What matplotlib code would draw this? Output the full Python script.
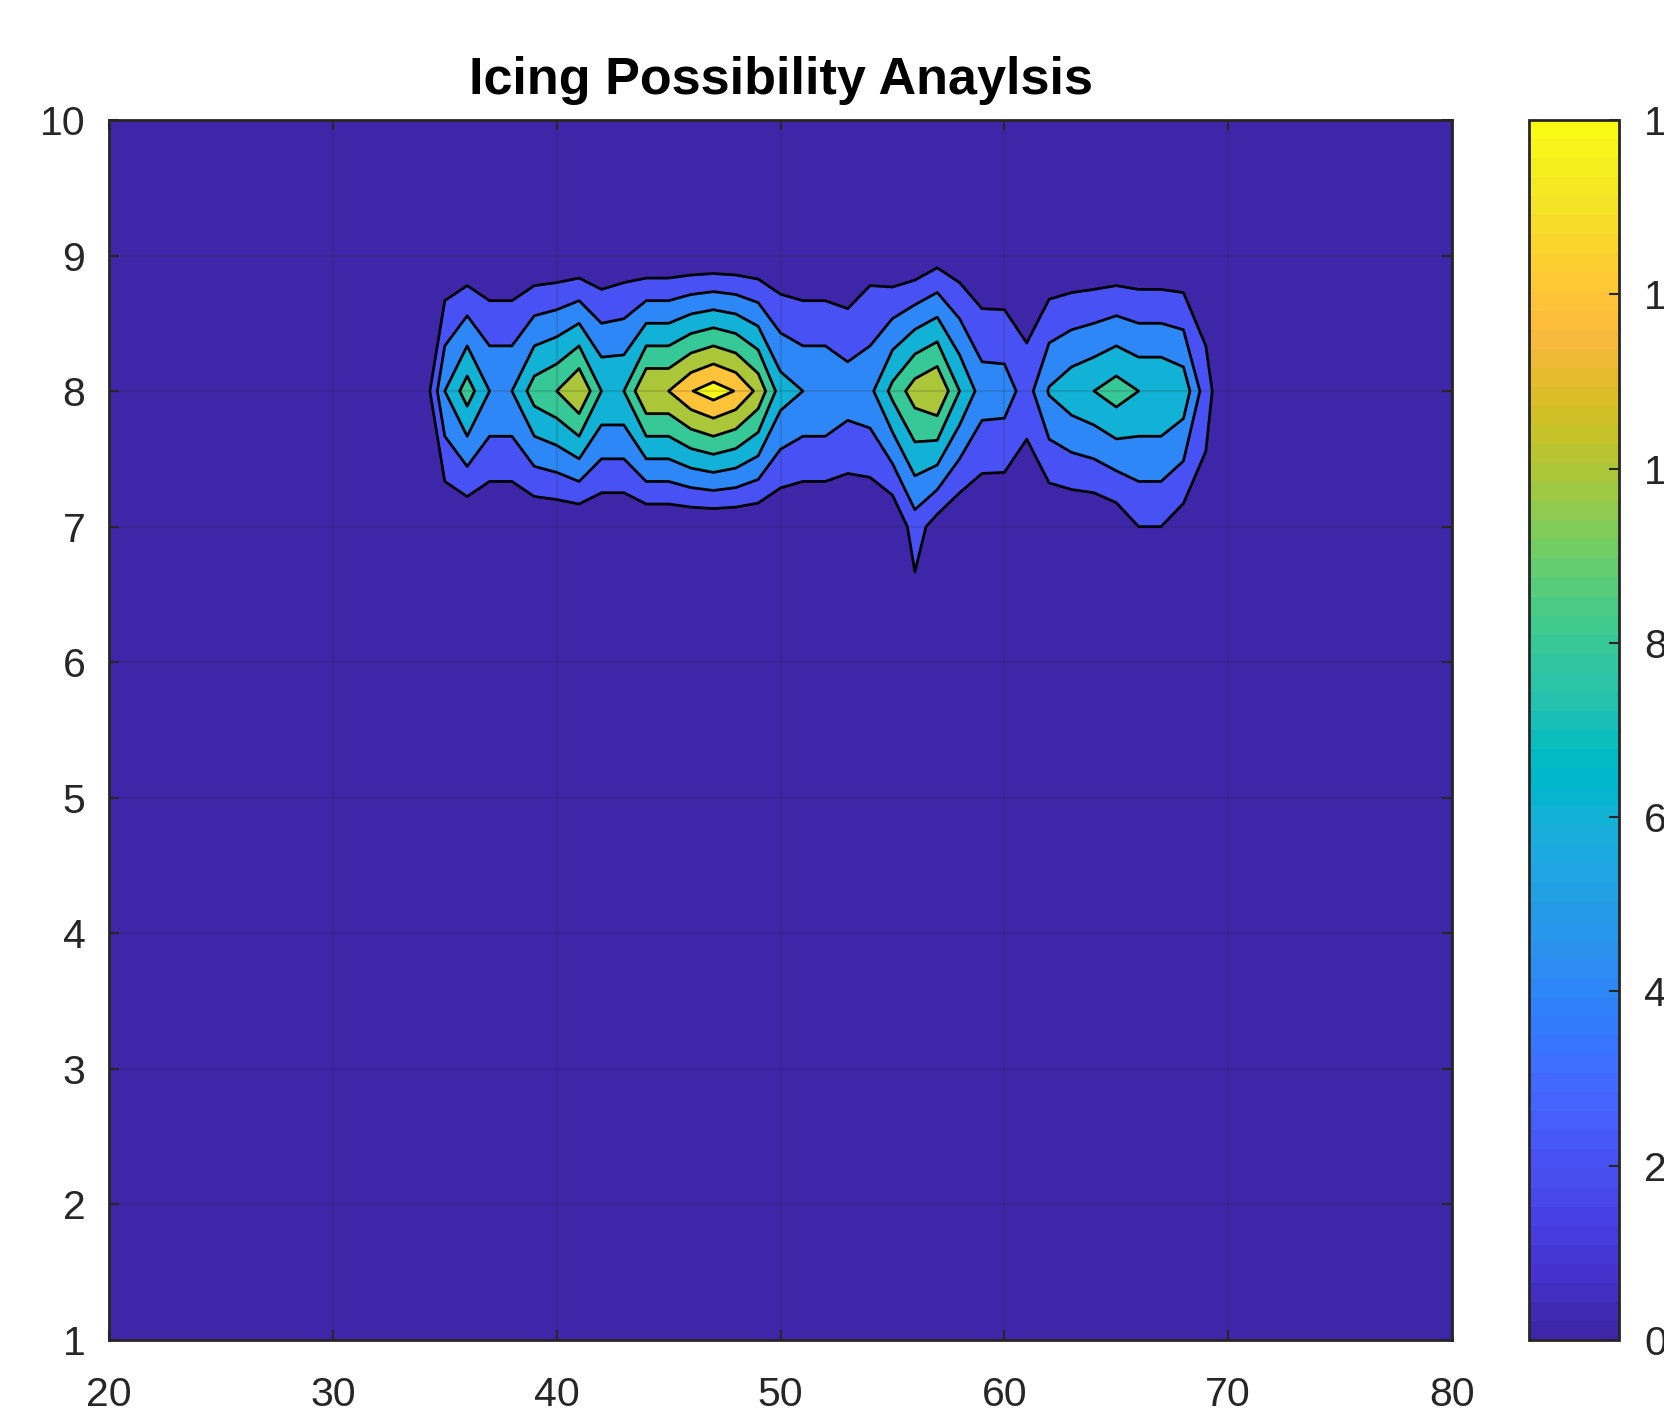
import numpy as np
import matplotlib
matplotlib.use("Agg")
import matplotlib.pyplot as plt
from matplotlib.colors import ListedColormap, Normalize
from matplotlib.cm import ScalarMappable

plt.rcParams['font.family'] = ['Liberation Sans', 'DejaVu Sans']

# Rejilla de datos
x_vals = np.arange(20, 81)
y_vals = np.arange(1, 11)

# Columnas con datos: x = 34..69 ; filas y = 7, 8, 9
x_data = np.arange(34, 70)
row_y7 = [0, 0, 0, 0, 0, 0, 0, 0, 0, 0,
          0, 0, 0, 0, 0, 0, 0, 0, 0, 0,
          0, 0, 3, 1, 0, 0, 0, 0, 0, 0,
          0, 0.5, 2, 2, 0.9, 1]
row_y8 = [0, 6, 9, 6, 6, 9, 10, 12, 8, 8,
          12, 12, 13.9, 15, 13.9, 11.5, 7, 6, 6, 5.1,
          5.5, 8.6, 11, 12, 8, 5.1, 5, 3.1, 6.2, 7.3,
          8, 9, 8, 8, 7.3, 2.8]
row_y9 = [0, 0, 0, 0, 0, 0, 0, 0, 0, 0.5,
          0, 0, 0, 0, 0, 0, 0, 0, 0, 0,
          1, 0, 0, 1, 0.5, 0, 0, 0, 0, 0,
          0, 0, 0, 0, 0, 0.4]

levels = [0, 2, 4, 6, 8, 10, 12, 14]
title = 'Icing Possibility Anaylsis'

# Mapa de colores parula (64 colores)
parula_data = [
    [0.2422, 0.1504, 0.6603], [0.2504, 0.1650, 0.7076], [0.2578, 0.1818, 0.7511],
    [0.2647, 0.1978, 0.7952], [0.2706, 0.2147, 0.8364], [0.2751, 0.2342, 0.8710],
    [0.2783, 0.2559, 0.8991], [0.2803, 0.2782, 0.9221], [0.2813, 0.3006, 0.9414],
    [0.2810, 0.3228, 0.9579], [0.2795, 0.3447, 0.9717], [0.2760, 0.3667, 0.9829],
    [0.2699, 0.3892, 0.9906], [0.2602, 0.4123, 0.9952], [0.2440, 0.4358, 0.9988],
    [0.2206, 0.4603, 0.9973], [0.1963, 0.4847, 0.9892], [0.1834, 0.5074, 0.9798],
    [0.1786, 0.5289, 0.9682], [0.1764, 0.5499, 0.9520], [0.1687, 0.5703, 0.9359],
    [0.1540, 0.5902, 0.9218], [0.1460, 0.6091, 0.9079], [0.1380, 0.6276, 0.8973],
    [0.1248, 0.6459, 0.8883], [0.1113, 0.6635, 0.8763], [0.0952, 0.6798, 0.8598],
    [0.0689, 0.6948, 0.8394], [0.0297, 0.7082, 0.8163], [0.0036, 0.7203, 0.7917],
    [0.0067, 0.7312, 0.7660], [0.0433, 0.7411, 0.7394], [0.0964, 0.7500, 0.7120],
    [0.1408, 0.7584, 0.6842], [0.1717, 0.7670, 0.6554], [0.1938, 0.7758, 0.6251],
    [0.2161, 0.7843, 0.5923], [0.2470, 0.7918, 0.5567], [0.2906, 0.7973, 0.5188],
    [0.3406, 0.8008, 0.4789], [0.3909, 0.8029, 0.4354], [0.4456, 0.8024, 0.3909],
    [0.5044, 0.7993, 0.3480], [0.5616, 0.7942, 0.3045], [0.6174, 0.7876, 0.2612],
    [0.6720, 0.7793, 0.2227], [0.7242, 0.7698, 0.1910], [0.7738, 0.7598, 0.1646],
    [0.8203, 0.7498, 0.1535], [0.8634, 0.7406, 0.1596], [0.9035, 0.7330, 0.1774],
    [0.9393, 0.7288, 0.2100], [0.9728, 0.7298, 0.2394], [0.9956, 0.7434, 0.2371],
    [0.9970, 0.7659, 0.2199], [0.9952, 0.7893, 0.2028], [0.9892, 0.8136, 0.1885],
    [0.9786, 0.8386, 0.1766], [0.9676, 0.8639, 0.1643], [0.9610, 0.8890, 0.1537],
    [0.9597, 0.9135, 0.1423], [0.9628, 0.9373, 0.1265], [0.9691, 0.9606, 0.1064],
    [0.9769, 0.9839, 0.0805]]
parula = ListedColormap(parula_data, name='parula')

# Matriz Z (filas = y, columnas = x)
Z = np.zeros((len(y_vals), len(x_vals)))
c0 = int(x_data[0] - x_vals[0])
c1 = c0 + len(x_data)
Z[list(y_vals).index(7), c0:c1] = row_y7
Z[list(y_vals).index(8), c0:c1] = row_y8
Z[list(y_vals).index(9), c0:c1] = row_y9

# Color de cada banda como en MATLAB (color del nivel inferior)
cmin, cmax = levels[0], levels[-1]
n = len(parula_data)
fill_colors = []
for lv in levels:
    idx = min(int((lv - cmin) / (cmax - cmin) * n), n - 1)
    fill_colors.append(parula_data[idx])

fig = plt.figure(figsize=(16.65, 14.11), dpi=100)
ax = fig.add_axes([0.0655, 0.0503, 0.8066, 0.8647])
cax = fig.add_axes([0.9183, 0.0503, 0.0541, 0.8647])

X, Y = np.meshgrid(x_vals, y_vals)
ax.contourf(X, Y, Z, levels=levels + [Z.max() + 1], colors=fill_colors)
ax.contour(X, Y, Z, levels=levels[1:], colors='k', linewidths=2.0)

ax.set_xlim(20, 80)
ax.set_ylim(1, 10)
ax.set_xticks(range(20, 81, 10))
ax.set_yticks(range(1, 11))

dark = '#262626'
ax.grid(True, color=dark, alpha=0.15, linewidth=1.5)
ax.set_axisbelow(False)
for sp in ax.spines.values():
    sp.set_color(dark)
    sp.set_linewidth(2)
ax.tick_params(axis='both', direction='in', length=7, width=1.5, color=dark,
               labelcolor=dark, labelsize=29.5, top=True, right=True)
ax.tick_params(axis='x', pad=26)
ax.tick_params(axis='y', pad=17)

ax.set_title(title, fontsize=37.5, fontweight='bold', pad=19, color='black')

# Barra de colores
sm = ScalarMappable(norm=Normalize(cmin, cmax), cmap=parula)
cb = fig.colorbar(sm, cax=cax, ticks=levels)
cb.outline.set_edgecolor(dark)
cb.outline.set_linewidth(2)
cb.ax.tick_params(direction='in', length=7, width=1.5, color=dark,
                  labelcolor=dark, labelsize=29.5, pad=18)

fig.savefig('out.png', dpi=100)
